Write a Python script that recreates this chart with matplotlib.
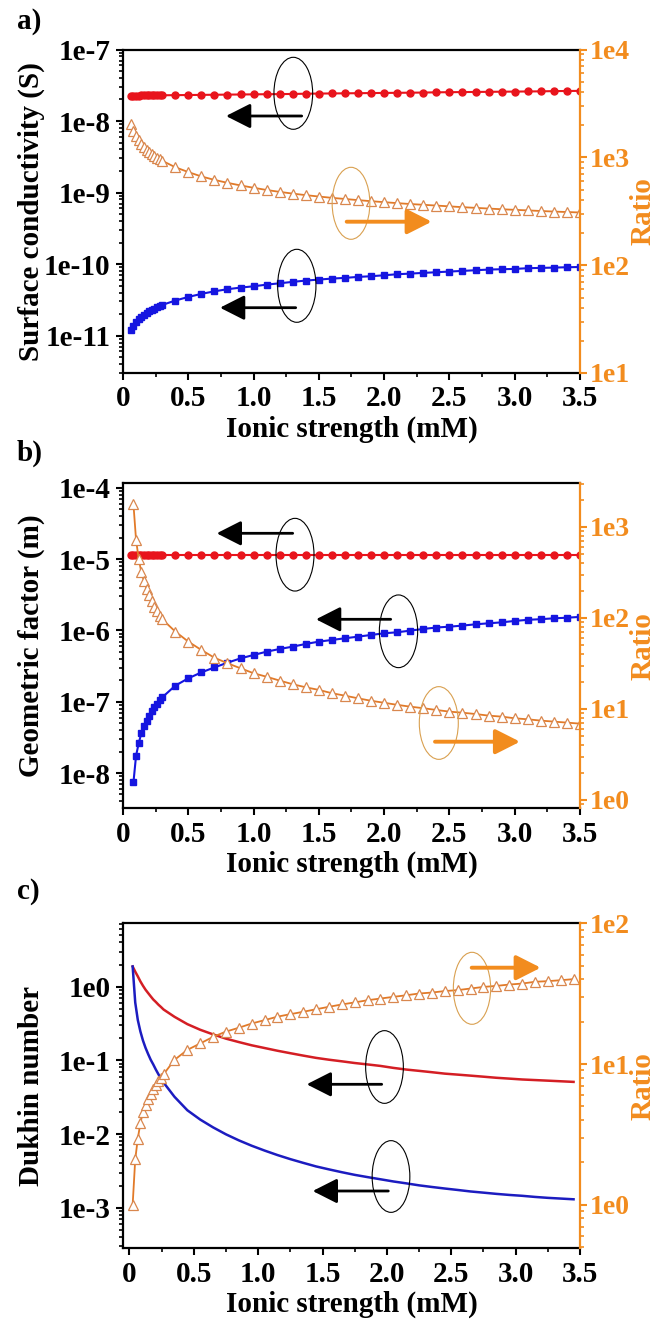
import numpy as np
import matplotlib
matplotlib.use('Agg')
import matplotlib.pyplot as plt
from matplotlib.patches import Ellipse, FancyArrowPatch
from matplotlib.ticker import LogLocator, MultipleLocator, FuncFormatter, NullFormatter

# ionic strength grids (mM)
ionic_ab = [0.06, 0.08, 0.10, 0.12, 0.14, 0.16, 0.18, 0.20, 0.22, 0.24, 0.26, 0.28, 0.30,
            0.4, 0.5, 0.6, 0.7, 0.8, 0.9, 1.0, 1.1, 1.2, 1.3, 1.4, 1.5, 1.6, 1.7, 1.8, 1.9,
            2.0, 2.1, 2.2, 2.3, 2.4, 2.5, 2.6, 2.7, 2.8, 2.9, 3.0, 3.1, 3.2, 3.3, 3.4, 3.5]
ionic_c = [0.025, 0.045, 0.065, 0.085, 0.105, 0.125, 0.145, 0.165, 0.185, 0.205, 0.225, 0.245, 0.265,
           0.35, 0.45, 0.55, 0.65, 0.75, 0.85, 0.95, 1.05, 1.15, 1.25, 1.35, 1.45, 1.55, 1.65, 1.75,
           1.85, 1.95, 2.05, 2.15, 2.25, 2.35, 2.45, 2.55, 2.65, 2.75, 2.85, 2.95, 3.05, 3.15, 3.25,
           3.35, 3.45]

# a) surface conductivity (S)
cond_red = [2.27e-8, 2.27e-8, 2.27e-8, 2.27e-8, 2.28e-8, 2.28e-8, 2.28e-8, 2.28e-8, 2.28e-8,
            2.28e-8, 2.29e-8, 2.29e-8, 2.29e-8, 2.30e-8, 2.31e-8, 2.32e-8, 2.33e-8, 2.34e-8,
            2.35e-8, 2.36e-8, 2.37e-8, 2.38e-8, 2.39e-8, 2.41e-8, 2.42e-8, 2.43e-8, 2.44e-8,
            2.45e-8, 2.46e-8, 2.47e-8, 2.48e-8, 2.49e-8, 2.50e-8, 2.52e-8, 2.53e-8, 2.54e-8,
            2.55e-8, 2.56e-8, 2.57e-8, 2.58e-8, 2.59e-8, 2.60e-8, 2.62e-8, 2.63e-8, 2.64e-8]
cond_blue = [1.19e-11, 1.38e-11, 1.54e-11, 1.69e-11, 1.83e-11, 1.95e-11, 2.07e-11, 2.18e-11,
             2.29e-11, 2.39e-11, 2.49e-11, 2.58e-11, 2.68e-11, 3.09e-11, 3.47e-11, 3.83e-11,
             4.16e-11, 4.45e-11, 4.69e-11, 4.89e-11, 5.16e-11, 5.39e-11, 5.64e-11, 5.88e-11,
             6.07e-11, 6.27e-11, 6.41e-11, 6.62e-11, 6.76e-11, 6.98e-11, 7.21e-11, 7.36e-11,
             7.53e-11, 7.69e-11, 7.86e-11, 8.03e-11, 8.20e-11, 8.38e-11, 8.47e-11, 8.56e-11,
             8.75e-11, 8.84e-11, 8.93e-11, 9.03e-11, 9.10e-11]
cond_ratio = [2040, 1770, 1580, 1440, 1335, 1250, 1180, 1120, 1065, 1020, 985, 955, 930,
              810, 730, 665, 618, 580, 549, 522, 498, 478, 461, 446, 433, 421, 411, 401, 392,
              384, 376, 369, 363, 357, 351, 345, 340, 335, 330, 326, 322, 318, 314, 311, 308]

# b) geometric factor (m), blue and ratio start at 0.08 mM
geo_red = [1.16e-5, 1.16e-5, 1.16e-5, 1.16e-5, 1.16e-5, 1.16e-5, 1.16e-5, 1.16e-5, 1.16e-5,
           1.16e-5, 1.16e-5, 1.16e-5, 1.16e-5, 1.16e-5, 1.16e-5, 1.16e-5, 1.16e-5, 1.16e-5,
           1.16e-5, 1.16e-5, 1.16e-5, 1.16e-5, 1.16e-5, 1.16e-5, 1.16e-5, 1.16e-5, 1.16e-5,
           1.16e-5, 1.16e-5, 1.16e-5, 1.16e-5, 1.16e-5, 1.16e-5, 1.16e-5, 1.16e-5, 1.16e-5,
           1.16e-5, 1.16e-5, 1.16e-5, 1.16e-5, 1.16e-5, 1.16e-5, 1.16e-5, 1.16e-5, 1.16e-5]
geo_blue = [7.4e-9, 1.75e-8, 2.6e-8, 3.6e-8, 4.5e-8, 5.4e-8, 6.4e-8, 7.4e-8, 8.5e-8, 9.4e-8,
            1.05e-7, 1.15e-7, 1.68e-7, 2.13e-7, 2.58e-7, 3.03e-7, 3.53e-7, 4.06e-7, 4.53e-7,
            5.04e-7, 5.50e-7, 5.93e-7, 6.47e-7, 6.97e-7, 7.36e-7, 7.77e-7, 8.19e-7, 8.65e-7,
            9.13e-7, 9.43e-7, 9.95e-7, 1.05e-6, 1.10e-6, 1.13e-6, 1.17e-6, 1.22e-6, 1.26e-6,
            1.30e-6, 1.36e-6, 1.41e-6, 1.44e-6, 1.48e-6, 1.51e-6, 1.55e-6]
geo_ratio = [1775, 720, 450, 320, 255, 210, 178, 152, 133, 118, 106, 97,
             71, 55, 44.5, 36.6, 31.8, 28.0, 24.7, 22.6, 20.5, 18.7, 17.3, 16.2, 14.9, 14.0,
             13.1, 12.3, 11.7, 11.1, 10.6, 10.2, 9.75, 9.35, 9.1, 8.8, 8.45, 8.24, 7.9, 7.7,
             7.45, 7.26, 7.08, 6.9]

# c) Dukhin number
du_red = [1.88, 1.60, 1.38, 1.18, 1.03, 0.91, 0.82, 0.74, 0.67, 0.62, 0.57, 0.53, 0.49,
          0.39, 0.31, 0.26, 0.225, 0.197, 0.177, 0.160, 0.147, 0.135, 0.125, 0.116, 0.108,
          0.102, 0.097, 0.092, 0.088, 0.084, 0.079, 0.075, 0.072, 0.069, 0.066, 0.064, 0.062,
          0.060, 0.058, 0.0565, 0.055, 0.054, 0.053, 0.052, 0.051]
du_blue = [1.88, 0.61, 0.353, 0.247, 0.186, 0.148, 0.122, 0.102, 0.088, 0.075, 0.0648, 0.0566,
           0.050, 0.032, 0.021, 0.0157, 0.0123, 0.0099, 0.0082, 0.00693, 0.00596, 0.00518,
           0.00456, 0.00406, 0.00363, 0.00331, 0.00303, 0.00279, 0.0026, 0.00243, 0.00227,
           0.00214, 0.00201, 0.00191, 0.00182, 0.00174, 0.00166, 0.0016, 0.00154, 0.00149,
           0.00145, 0.0014, 0.00136, 0.00133, 0.0013]
du_ratio = [1.0, 2.1, 2.95, 3.8, 4.55, 5.15, 5.65, 6.15, 6.6, 7.05, 7.55, 8.0, 8.45,
            10.7, 12.6, 14.0, 15.6, 17.0, 18.1, 19.4, 20.5, 21.7, 22.6, 23.5, 24.5, 25.5,
            26.5, 27.4, 28.4, 29.2, 30.0, 30.8, 31.7, 32.2, 33.0, 33.5, 34.4, 35.3, 35.9,
            36.7, 37.3, 38.4, 38.8, 39.4, 40.1]

plt.rcParams['font.family'] = ['Liberation Serif', 'DejaVu Serif']
plt.rcParams['font.weight'] = 'bold'
plt.rcParams['axes.labelweight'] = 'bold'

ORANGE = '#F28C1E'
TRI_LINE = '#E27A28'
TRI_EDGE = '#D9874E'
RED = '#E8141C'
BLUE = '#1515E0'
FS = 21

W, H = 661, 1321
fig = plt.figure(figsize=(W / 100, H / 100), dpi=100)


def decade(v, pos):
    return f'1e{int(round(np.log10(v)))}'


def style_axes(ax, ax2, ylim, ylim2, ylabel, xlim):
    ax.set_xlim(*xlim)
    ax.set_yscale('log')
    ax2.set_yscale('log')
    ax.set_ylim(*ylim)
    ax2.set_ylim(*ylim2)
    ax.xaxis.set_major_locator(MultipleLocator(0.5))
    ax.xaxis.set_minor_locator(MultipleLocator(0.25))
    ax.xaxis.set_major_formatter(FuncFormatter(lambda v, p: '0' if abs(v) < 1e-9 else f'{v:.1f}'))
    for a in (ax, ax2):
        a.yaxis.set_major_locator(LogLocator(base=10, numticks=20))
        a.yaxis.set_minor_locator(LogLocator(base=10, subs=np.arange(2, 10), numticks=20))
        a.yaxis.set_major_formatter(FuncFormatter(decade))
        a.yaxis.set_minor_formatter(NullFormatter())
    ax.tick_params(axis='both', which='major', direction='out', length=5, width=1.5,
                   labelsize=FS, pad=4)
    ax.tick_params(axis='both', which='minor', direction='out', length=3, width=1.2)
    ax2.tick_params(axis='y', which='major', direction='out', length=5, width=1.5,
                    labelsize=20, pad=2, colors=ORANGE)
    ax2.tick_params(axis='y', which='minor', direction='out', length=3, width=1.2, colors=ORANGE)
    for side in ('left', 'top', 'bottom'):
        ax.spines[side].set_linewidth(1.6)
        ax2.spines[side].set_visible(False)
    ax.spines['right'].set_visible(False)
    ax2.spines['right'].set_color(ORANGE)
    ax2.spines['right'].set_linewidth(1.6)
    ax.set_xlabel('Ionic strength (mM)', fontsize=FS, labelpad=2)
    ax.set_ylabel(ylabel, fontsize=FS)
    ax.yaxis.set_label_coords(-0.171, 0.5)
    ax2.set_ylabel('Ratio', fontsize=FS, color=ORANGE)
    ax2.yaxis.set_label_coords(1.108, 0.5)


def panel(top, bottom):
    ax = fig.add_axes([123 / W, 1 - bottom / H, 457 / W, (bottom - top) / H])
    return ax, ax.twinx()


def ring(cx, cy, w, h, color):
    fig.add_artist(Ellipse((cx / W, 1 - cy / H), w / W, h / H, transform=fig.transFigure,
                           fill=False, ec=color, lw=0.8))


def pointer(x0, x1, y, color, lw):
    fig.add_artist(FancyArrowPatch((x0 / W, 1 - y / H), (x1 / W, 1 - y / H),
                                   transform=fig.transFigure,
                                   arrowstyle='-|>,head_length=0.75,head_width=0.38',
                                   mutation_scale=20, color=color, lw=lw,
                                   shrinkA=0, shrinkB=0))


tri = dict(marker='^', ms=6.5, mfc='white', mec=TRI_EDGE, mew=0.9, color=TRI_LINE, lw=1.3)

# a) surface conductivity
ax, ax2 = panel(49.5, 373)
ax.plot(ionic_ab, cond_red, color=RED, marker='o', ms=5, lw=1.5)
ax.plot(ionic_ab, cond_blue, color=BLUE, marker='s', ms=4.2, lw=1.5)
ax2.plot(ionic_ab, cond_ratio, **tri)
style_axes(ax, ax2, (3.0e-12, 1e-7), (1e1, 1e4), 'Surface conductivity (S)', (0, 3.5))

# b) geometric factor
ax, ax2 = panel(483.3, 808.3)
ax.plot(ionic_ab, geo_red, color=RED, marker='o', ms=5, lw=1.5)
ax.plot(ionic_ab[1:], geo_blue, color=BLUE, marker='s', ms=4.2, lw=1.5)
ax2.plot(ionic_ab[1:], geo_ratio, **tri)
style_axes(ax, ax2, (3.2e-9, 1.16e-4), (0.81, 3020), 'Geometric factor (m)', (0, 3.5))

# c) Dukhin number
ax, ax2 = panel(923.3, 1248.3)
ax.plot(ionic_c, du_red, color='#D41E24', lw=1.8)
ax.plot(ionic_c, du_blue, color='#1C1CC0', lw=1.8)
ax2.plot(ionic_c, du_ratio, **tri)
style_axes(ax, ax2, (2.81e-4, 7.25), (0.49, 100), 'Dukhin number', (-0.05, 3.5))

for label, y in (('a)', 29), ('b)', 461), ('c)', 899)):
    fig.text(17 / W, 1 - y / H, label, fontsize=FS, fontweight='bold', va='baseline')

# pointers to the matching axis
ring(293.3, 93.3, 38.7, 72, 'black')
pointer(301.7, 226, 116, 'black', 2.0)
ring(351, 203.3, 37.7, 72, '#D9A050')
pointer(346.7, 431.7, 221.7, ORANGE, 2.8)
ring(296.8, 285.8, 38.3, 73, 'black')
pointer(295.7, 220, 307.7, 'black', 2.0)

ring(295, 554.7, 38, 72.7, 'black')
pointer(292.7, 216.7, 533.3, 'black', 2.0)
ring(398.5, 631.3, 38.3, 72.7, 'black')
pointer(390.7, 316, 619.3, 'black', 2.0)
ring(438.8, 723, 39, 72.7, '#D9A050')
pointer(435, 520, 741.7, ORANGE, 2.8)

ring(472, 988.3, 37.3, 72, '#D9A050')
pointer(471.7, 540.7, 967.7, ORANGE, 2.8)
ring(384.5, 1067, 37.7, 72.7, 'black')
pointer(381.7, 306.7, 1084.3, 'black', 2.0)
ring(391, 1176.5, 37.7, 71.7, 'black')
pointer(388.3, 312.7, 1191, 'black', 2.0)

fig.savefig('out.png', dpi=100)
